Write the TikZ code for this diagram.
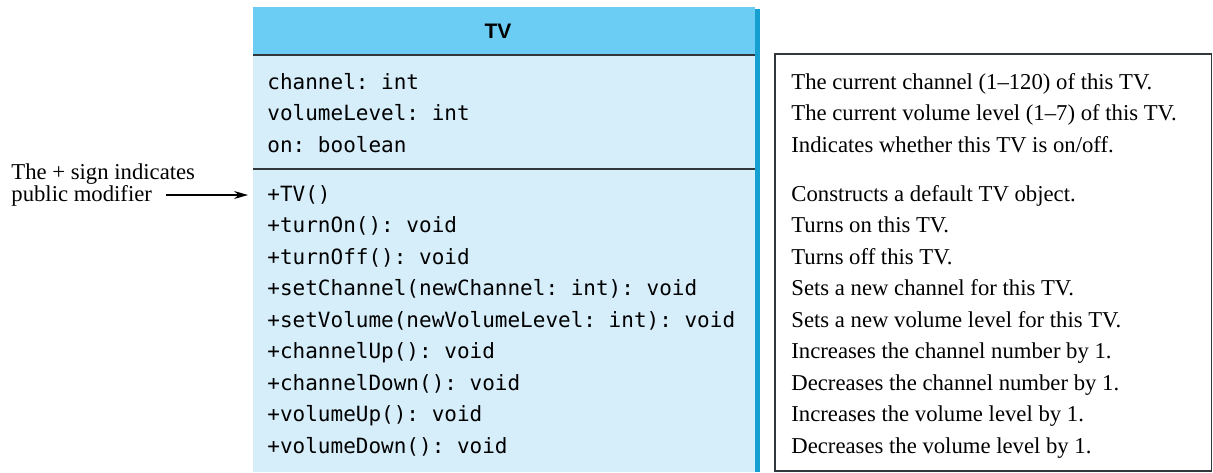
\documentclass[tikz,border=0pt]{standalone}
\usepackage{fontspec}
\setmainfont{Liberation Serif}
\setsansfont{Liberation Sans}
\setmonofont{DejaVu Sans Mono}
\usetikzlibrary{arrows.meta}

\definecolor{hdblue}{RGB}{108,205,244}
\definecolor{bdblue}{RGB}{214,237,250}
\definecolor{edblue}{RGB}{22,160,210}
\definecolor{rulegray}{RGB}{50,55,60}

\begin{document}
\begin{tikzpicture}[x=0.5pt, y=-0.5pt,
  mem/.style={anchor=base west, inner sep=0pt, font=\ttfamily\fontsize{10.5}{12}\selectfont},
  desc/.style={anchor=base west, inner sep=0pt, font=\fontsize{11.35}{13}\selectfont},
  sep/.style={draw=rulegray, line width=0.75pt},
  arr/.style={-{Stealth[length=7pt, width=4pt]}, line width=0.55pt}]
  \useasboundingbox (0,0) rectangle (1213,472);
  % class box
  \fill[bdblue] (253,7) rectangle (755,472);
  \fill[hdblue] (253,7) rectangle (755,55);
  \fill[edblue] (755,9) rectangle (760,472);
  \draw[sep] (253,55) -- (755,55);
  \draw[sep] (253,169) -- (755,169);
  \node[font=\sffamily\bfseries\fontsize{10.5}{12}\selectfont] (name) at (498,31) {TV};
  % data fields
  \foreach \t [count=\i] in {channel: int, volumeLevel: int, on: boolean}
    \node[mem] (a\i) at (267,{89+31.5*(\i-1)}) {\t};
  % methods
  \foreach \t [count=\i] in {+TV(), +turnOn(): void, +turnOff(): void,
      +setChannel(newChannel: int): void, +setVolume(newVolumeLevel: int): void,
      +channelUp(): void, +channelDown(): void, +volumeUp(): void, +volumeDown(): void}
    \node[mem] (m\i) at (267,{201+31.5*(\i-1)}) {\t};
  % descriptions
  \draw[draw=rulegray, line width=0.75pt] (775,54) rectangle (1211.5,471);
  \foreach \t [count=\i] in {The current channel (1--120) of this TV.,
      The current volume level (1--7) of this TV., Indicates whether this TV is on/off.}
    \node[desc] (da\i) at (791,{89+31.5*(\i-1)}) {\t};
  \foreach \t [count=\i] in {Constructs a default TV object., Turns on this TV.,
      Turns off this TV., Sets a new channel for this TV.,
      Sets a new volume level for this TV., Increases the channel number by 1.,
      Decreases the channel number by 1., Increases the volume level by 1.,
      Decreases the volume level by 1.}
    \node[desc] (dm\i) at (791,{201+31.5*(\i-1)}) {\t};
  % note on the + sign
  \node[anchor=west, inner sep=0pt, align=left, font=\fontsize{11.35}{10}\selectfont]
    (sign) at (11,185) {The + sign indicates\\public modifier};
  \coordinate (arrS) at (166,195);
  \coordinate (arrE) at (248,195);
  \draw[arr] (arrS) -- (arrE);
\end{tikzpicture}
\end{document}
